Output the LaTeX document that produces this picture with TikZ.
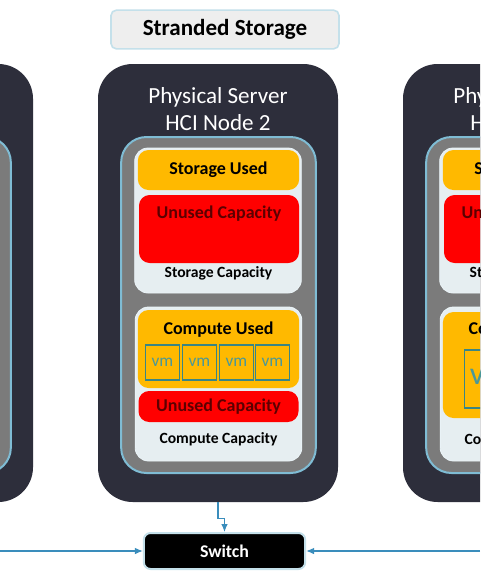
\documentclass[tikz,border=0pt]{standalone}
\usepackage{fontspec}
\setmainfont{Carlito}
\usetikzlibrary{arrows.meta}
\definecolor{srvdark}{HTML}{2D2E3B}
\definecolor{graybox}{HTML}{7B7B7B}
\definecolor{edgeblue}{HTML}{7FBCD4}
\definecolor{lightfill}{HTML}{E6EEF1}
\definecolor{goldfill}{HTML}{FFB900}
\definecolor{redtext}{HTML}{5C0000}
\definecolor{vmteal}{HTML}{3A8585}
\definecolor{vmtext}{HTML}{4A9898}
\definecolor{arrowblue}{HTML}{3A8DBC}
\definecolor{titlefill}{HTML}{EEEEEE}
\definecolor{titleedge}{HTML}{C4E0EA}
\tikzset{
  server/.style={draw=none, fill=srvdark, rounded corners=26pt, minimum width=180pt, minimum height=328.5pt, inner sep=0pt},
  grayinner/.style={draw=edgeblue, line width=1.5pt, fill=graybox, rounded corners=19pt, minimum width=146pt, minimum height=252pt, inner sep=0pt},
  capbox/.style={draw=white!85!edgeblue, line width=0.6pt, fill=lightfill, rounded corners=10pt, minimum width=125pt, inner sep=0pt},
  usedbox/.style={fill=goldfill, rounded corners=8pt, minimum width=121pt, inner sep=0pt, font=\bfseries\fontsize{13.5}{16}\selectfont},
  unusedbox/.style={fill=red, rounded corners=8pt, minimum width=120pt, inner sep=0pt, text=redtext, font=\bfseries\fontsize{13.5}{16}\selectfont},
  redlabel/.style={text=redtext, font=\bfseries\fontsize{13.5}{16}\selectfont, inner sep=0pt},
  usedlabel/.style={font=\bfseries\fontsize{13.5}{16}\selectfont, inner sep=0pt},
  caplabel/.style={font=\bfseries\fontsize{11.7}{14}\selectfont, inner sep=0pt},
  vmbox/.style={draw=vmteal, line width=1.1pt, minimum width=25.5pt, minimum height=26pt, inner sep=0pt, text=vmtext, font=\fontsize{13}{15}\selectfont},
  servertitle/.style={text=white, align=center, font=\fontsize{17.3}{20.25}\selectfont, inner sep=0pt},
  arr/.style={draw=arrowblue, line width=0.9pt, -{Latex[length=6pt,width=5pt]}},
}
\begin{document}
\begin{tikzpicture}[x=0.75pt,y=-0.75pt]
\useasboundingbox (0,0) rectangle (480,583);
\clip (0,0) rectangle (480,583);
\fill[white] (0,0) rectangle (480,583);

% title
\node[draw=titleedge, line width=1.2pt, fill=titlefill, rounded corners=4pt, minimum width=171pt, minimum height=29pt, inner sep=0pt, font=\bfseries\fontsize{17.3}{20}\selectfont] (title) at (225,29.5) {Stranded Storage};

% left server (mostly outside the picture)
\node[server] (srv1) at (-87,283) {};
\node[grayinner] (gray1) at (-86.5,305) {};

% center server
\node[server] (srv2) at (218,283) {};
\node[servertitle] (name2) at (218,109) {Physical Server\\HCI Node 2};
\node[grayinner] (gray2) at (218.5,305) {};
\node[capbox, minimum height=108.75pt] (stor2) at (218,220.5) {};
\node[usedbox, minimum height=30pt] (sused2) at (218.5,170) {Storage Used};
\node[unusedbox, minimum height=51pt] (sfree2) at (219,229) {};
\node[redlabel] (sfreelbl2) at (219,214) {Unused Capacity};
\node[caplabel] (scap2) at (218.5,273) {Storage Capacity};
\node[capbox, minimum height=115.5pt] (comp2) at (218.5,384) {};
\node[usedbox, minimum height=58.5pt] (cused2) at (218.5,349) {};
\node[usedlabel] (cusedlbl2) at (218.5,330) {Compute Used};
\node[vmbox] (vma) at (162.5,362.5) {vm};
\node[vmbox] (vmb) at (199.5,362.5) {vm};
\node[vmbox] (vmc) at (236.5,362.5) {vm};
\node[vmbox] (vmd) at (272.5,362.5) {vm};
\node[unusedbox, minimum height=23.25pt] (cfree2) at (218.5,406.5) {Unused Capacity};
\node[caplabel] (ccap2) at (218.5,439) {Compute Capacity};

% right server
\node[server] (srv3) at (523,283) {};
\node[servertitle] (name3) at (523,109) {Physical Server\\HCI Node 3};
\node[grayinner] (gray3) at (523.5,305) {};
\node[capbox, minimum height=108.75pt] (stor3) at (523,220.5) {};
\node[usedbox, minimum height=30pt] (sused3) at (523.5,170) {Storage Used};
\node[unusedbox, minimum height=51pt] (sfree3) at (524,229) {};
\node[redlabel] (sfreelbl3) at (524,214) {Unused Capacity};
\node[caplabel] (scap3) at (523.5,273) {Storage Capacity};
\node[capbox, minimum height=115.5pt] (comp3) at (523.5,384) {};
\node[usedbox, minimum height=79.5pt] (cused3) at (523.5,365) {};
\node[usedlabel] (cusedlbl3) at (523.5,330) {Compute Used};
\node[vmbox, minimum width=88pt, minimum height=43.5pt] (vmbig) at (523,379) {};
\node[text=vmtext, inner sep=0pt, font=\fontsize{24}{28}\selectfont] (vmbiglbl) at (490,377) {vm};
\node[caplabel] (ccap3) at (523.5,440) {Compute Capacity};

% switch
\node[draw=titleedge, line width=1.5pt, fill=black, rounded corners=5pt, minimum width=121pt, minimum height=27pt, inner sep=0pt, text=white, font=\bfseries\fontsize{13.4}{16}\selectfont] (sw) at (224.5,551) {Switch};

% connectors
\coordinate (lend) at (0,551);
\coordinate (rend) at (480,551);
\draw[arr] (srv2.south) -- ++(0,16) -| (sw.north);
\draw[arr] (lend) -- (sw.west);
\draw[arr] (rend) -- (sw.east);
\end{tikzpicture}
\end{document}
